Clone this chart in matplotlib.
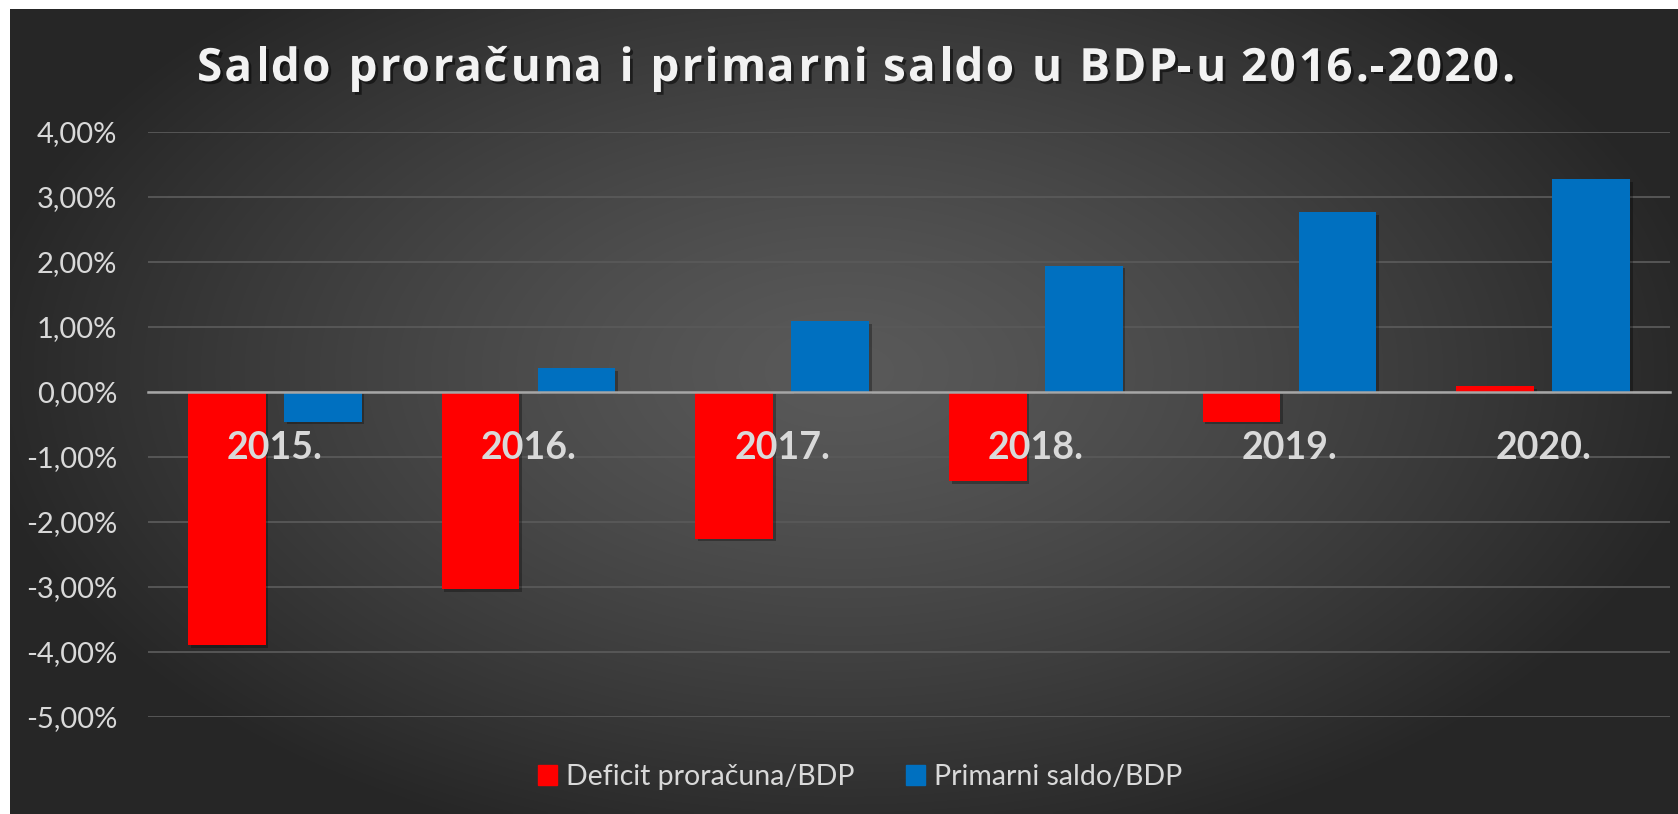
import numpy as np
import matplotlib
matplotlib.use("Agg")
import matplotlib.pyplot as plt
import matplotlib.patheffects as pe
from matplotlib.textpath import TextPath
from matplotlib.font_manager import FontProperties

plt.rcParams['font.family'] = ['Lato', 'DejaVu Sans']

years = ['2015.', '2016.', '2017.', '2018.', '2019.', '2020.']
deficit = [-3.90, -3.04, -2.26, -1.37, -0.46, 0.09]
primarni = [-0.46, 0.36, 1.09, 1.94, 2.76, 3.27]
labels = ['Deficit proračuna/BDP', 'Primarni saldo/BDP']
title = 'Saldo proračuna i primarni saldo u BDP-u 2016.-2020.'

RED = '#ff0000'
BLUE = '#0070c0'
TEXT = '#d9d9d9'
W, H = 1678, 814

fig = plt.figure(figsize=(W / 100, H / 100), dpi=100)
fig.patch.set_facecolor('white')

# dark radial background (white strip top/left like the screenshot)
bg = fig.add_axes([10 / W, 0, 1 - 10 / W, 1 - 9 / H], zorder=-10)
gx, gy = np.meshgrid(np.linspace(-1, 1, 400), np.linspace(-1, 1, 200))
r = np.sqrt(((gx - 0.0) / 1.05) ** 2 + ((gy + 0.1) / 1.25) ** 2)
r = np.clip(r, 0, 1)
shade = 0.35 - 0.2 * r ** 1.3
bg.imshow(np.dstack([shade] * 3), aspect='auto', extent=[0, 1, 0, 1], interpolation='bilinear')
bg.set_axis_off()

ax = fig.add_axes([148 / W, 1 - 716.7 / H, (1670 - 148) / W, (716.7 - 131.7) / H])
ax.set_facecolor('none')

# zero line as the category axis, labels hang below it
ax.spines['bottom'].set_position(('data', 0))
ax.spines['bottom'].set_color('#a6a6a6')
ax.spines['bottom'].set_linewidth(1.8)
ax.spines['bottom'].set_zorder(4)
for s in ['top', 'left', 'right']:
    ax.spines[s].set_visible(False)

x = np.arange(len(years))
w = 0.306
off = 0.379 / 2
shadow = [pe.SimplePatchShadow(offset=(2, -2), shadow_rgbFace='black', alpha=0.3), pe.Normal()]
b1 = ax.bar(x - off, deficit, w, color=RED, label=labels[0], zorder=3)
b2 = ax.bar(x + off, primarni, w, color=BLUE, label=labels[1], zorder=3)
for b in list(b1) + list(b2):
    b.set_path_effects(shadow)

ax.set_xlim(-0.5, 5.5)
ax.set_ylim(-5, 4)
yt = np.arange(-5, 5, 1)
ax.set_yticks(yt)
ax.set_yticklabels([f'{v:.2f}%'.replace('.', ',') for v in yt], fontsize=21, color=TEXT)
ax.yaxis.grid(True, color='#595959', linewidth=1.3)
ax.set_axisbelow(True)
ax.tick_params(axis='y', length=0, pad=22)

ax.set_xticks(x)
ax.set_xticklabels(years, fontsize=27, fontweight='bold', color=TEXT)
ax.tick_params(axis='x', length=0, pad=28)
ax.xaxis.set_zorder(5)

# title with letter spacing: each glyph placed at its pen position + extra gap
tfont = FontProperties(family='Open Sans', weight='bold', size=33)
px = 100 / 72


def ink(s):
    return TextPath((0, 0), s, prop=tfont).get_extents().width * px


adv_bar = ink('||') - ink('|')
chars = [(i, c) for i, c in enumerate(title) if c != ' ']
ink_x = {}
for i, c in chars:
    pen = ink('|' + title[:i] + '|') - ink('||')
    lsb = ink('|' + c) - adv_bar - ink(c)
    ink_x[i] = pen + lsb
left = ink_x[chars[0][0]]
right = ink_x[chars[-1][0]] + ink(chars[-1][1])
spacing = (1313 - (right - left)) / (len(title) - 1)
x0 = 197 - left
shadow_t = [pe.withSimplePatchShadow(offset=(2, -2), shadow_rgbFace='black', alpha=0.5)]
for i, c in chars:
    fig.text((x0 + ink_x[i] + spacing * i) / W, 1 - 63 / H, c, fontproperties=tfont,
             color='#f2f2f2', ha='left', va='center_baseline', path_effects=shadow_t)

h1 = plt.Rectangle((0, 0), 1, 1, color=RED)
h2 = plt.Rectangle((0, 0), 1, 1, color=BLUE)
fig.legend(handles=[h1, h2], labels=labels, loc='center', bbox_to_anchor=(860 / W, 1 - 777 / H),
           ncol=2, frameon=False, fontsize=20.5, labelcolor=TEXT, handlelength=0.68, handleheight=0.68,
           handletextpad=0.3, columnspacing=1.8)

fig.savefig('out.png', dpi=100)
